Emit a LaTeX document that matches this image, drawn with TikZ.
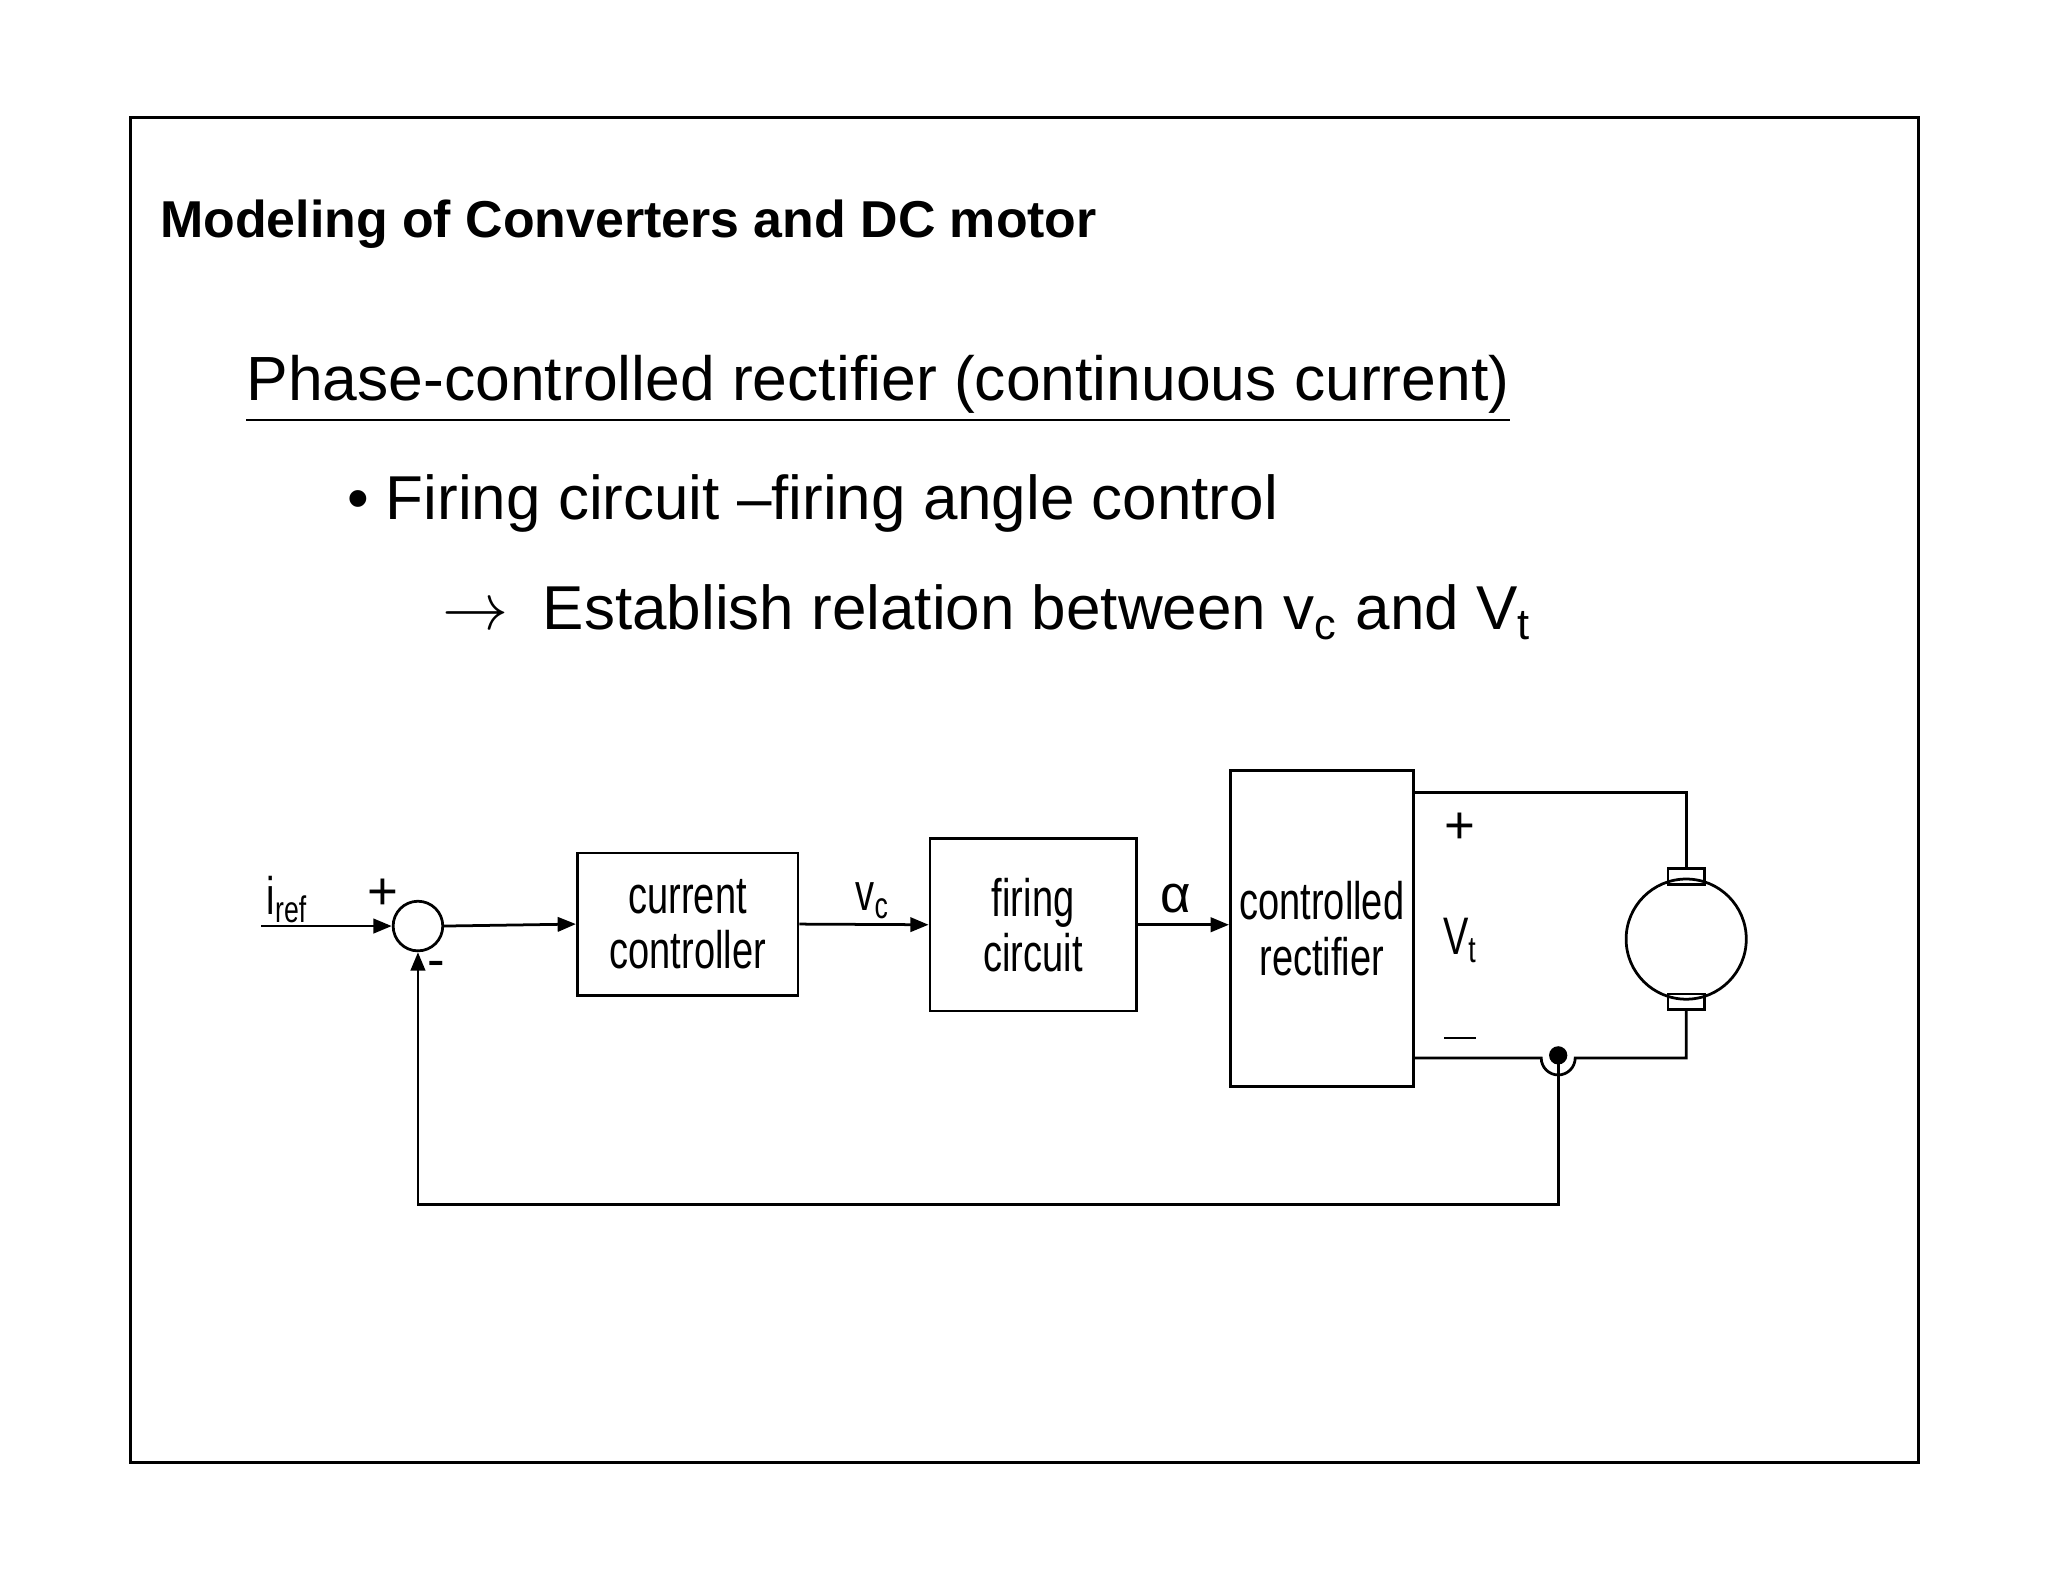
\documentclass[tikz,border=0pt]{standalone}
\usepackage{fontspec}
\setmainfont{Liberation Sans}
\usetikzlibrary{arrows.meta,positioning}
\newcommand{\nrw}[1]{\scalebox{0.72}[1]{#1}}
\begin{document}
\begin{tikzpicture}[x=0.1mm, y=-0.1mm,
  box/.style={draw, semithick, inner sep=0pt},
  lbl/.style={font=\fontsize{11.5}{13}\selectfont, inner sep=0pt, align=center},
  arrow/.style={-{Triangle[length=1.4mm,width=1.1mm]}, semithick},
  wire/.style={semithick}
]
\useasboundingbox (0,0) rectangle (1568,1211);
\draw[semithick] (100,90) rectangle (1469,1120);

\node[anchor=base west, inner sep=0pt, font=\bfseries\fontsize{11.3}{13}\selectfont] (title) at (122,182) {Modeling of Converters and DC motor};
\node[anchor=base west, inner sep=0pt, font=\fontsize{13.6}{16}\selectfont] (sub) at (188,307) {\underline{Phase-controlled rectifier (continuous current)}};
\node[anchor=base west, inner sep=0pt, font=\fontsize{13.5}{16}\selectfont] (bul) at (265,398) {\textbullet\ Firing circuit –firing angle control};
\node[anchor=base west, inner sep=0pt, font=\fontsize{13.5}{16}\selectfont] (rel) at (338,482) {$\rightarrow$\ \ Establish relation between v\textsubscript{c} and V\textsubscript{t}};

% blocks
\node[draw, semithick, circle, minimum size=38*0.1mm, inner sep=0pt] (sum) at (320,709) {};
\node[box, minimum width=169*0.1mm, minimum height=109*0.1mm, lbl] (cc) at (526.5,707.5) {\nrw{current}\\[-1pt]\nrw{controller}};
\node[box, minimum width=158*0.1mm, minimum height=132*0.1mm, lbl] (fc) at (791,708) {\nrw{firing}\\[-1pt]\nrw{circuit}};
\node[box, minimum width=140*0.1mm, minimum height=242*0.1mm, lbl] (cr) at (1012,711) {\nrw{controlled}\\[-1pt]\nrw{rectifier}};
\node[draw, semithick, circle, minimum size=92*0.1mm, inner sep=0pt] (mot) at (1291,719) {};
\node[box, minimum width=28*0.1mm, minimum height=12*0.1mm] (brt) at (1291,671) {};
\node[box, minimum width=28*0.1mm, minimum height=12*0.1mm] (brb) at (1291,767) {};
\fill (1193,808) circle (7*0.1mm);
\coordinate (sens) at (1193,808);

% labels
\node[lbl, anchor=base] (iref) at (220,700) {\nrw{i\textsubscript{ref}}};
\node[lbl] (pl) at (293,685) {+};
\node[lbl] (mi) at (334,742) {-};
\node[lbl, anchor=base] (vc) at (668,697) {\nrw{v\textsubscript{c}}};
\node[lbl] (al) at (900,688) {α};
\node[lbl] (vp) at (1118,634) {+};
\node[lbl] (vt) at (1118,720) {\nrw{V\textsubscript{t}}};
\node[lbl] (vm) at (1118,800) {\rule[0.5ex]{0.6em}{0.5pt}};

% connectors
\coordinate (in) at (200,709);
\draw[arrow] (in) -- (sum.west);
\draw[arrow] (sum.east) -- (cc.west);
\draw[arrow] (cc.east) -- (fc.west);
\draw[arrow] (fc.east) -- (cr.west |- fc.east);
\draw[wire] (cr.east |- 0,607) -| (brt.north);
\draw[wire] (brb.south) |- (1206,810) arc (0:180:13) -- (cr.east |- 0,810);
\draw[arrow] (sens) |- (320,922) -- (sum.south);
\end{tikzpicture}
\end{document}
